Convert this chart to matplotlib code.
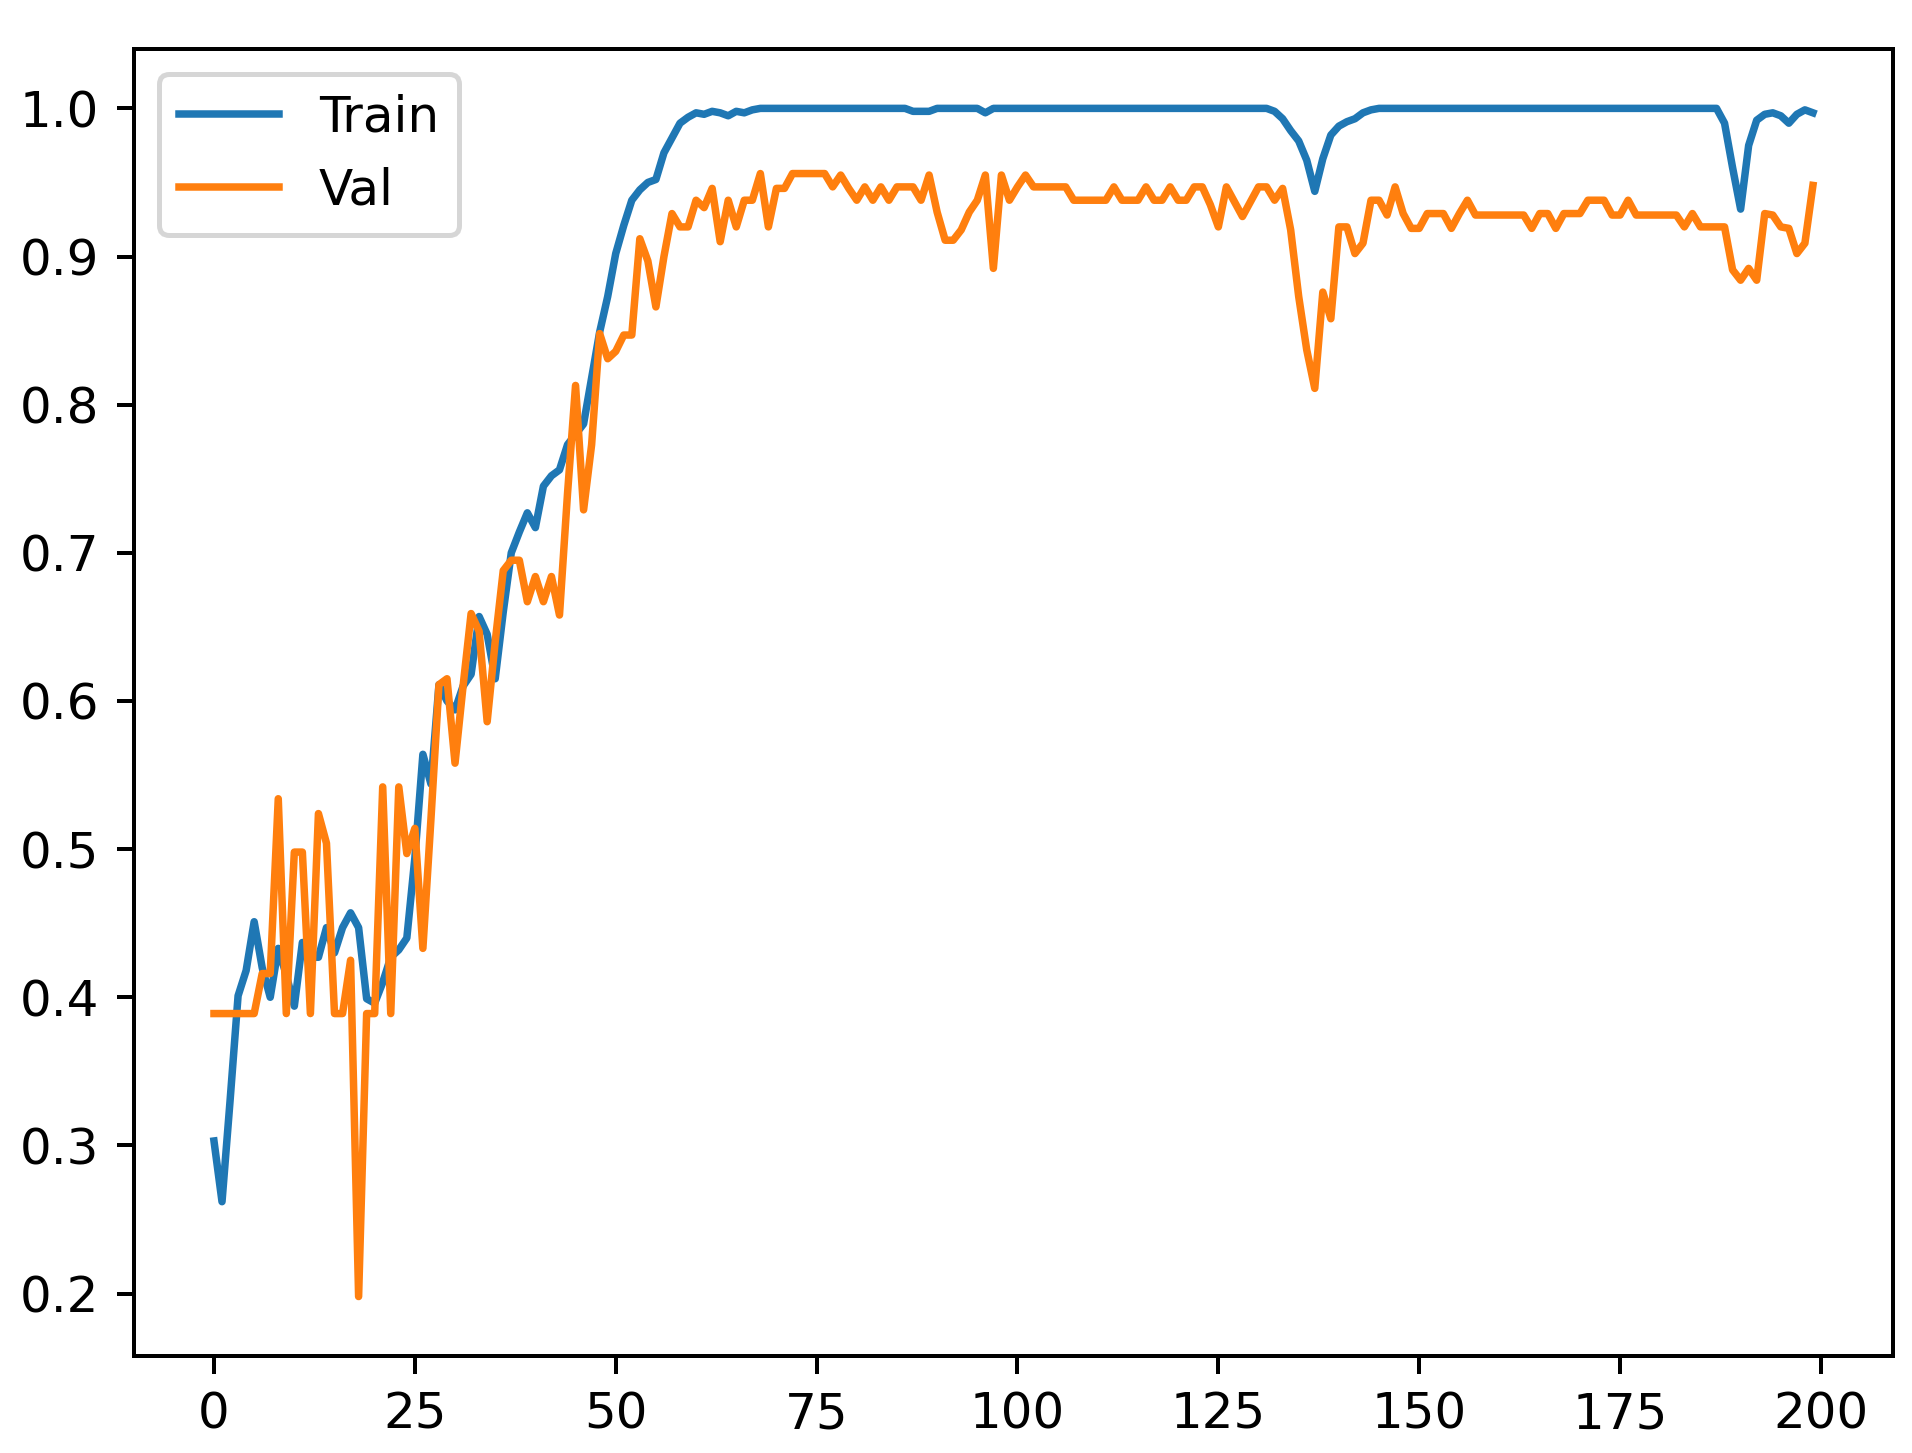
import matplotlib
matplotlib.use("Agg")
import matplotlib.pyplot as plt

train_acc = (
    [0.303, 0.262, 0.330, 0.401, 0.418, 0.451, 0.420, 0.400, 0.433, 0.415,
     0.394, 0.437, 0.427, 0.427, 0.447, 0.430, 0.447, 0.457, 0.447, 0.399,
     0.396, 0.410, 0.427, 0.432, 0.440, 0.494, 0.564, 0.544, 0.611, 0.600,
     0.594, 0.610, 0.618, 0.657, 0.645, 0.615, 0.660, 0.700, 0.714, 0.727,
     0.717, 0.745, 0.752, 0.756, 0.773, 0.780, 0.787, 0.818, 0.849, 0.873,
     0.902, 0.921, 0.938, 0.945, 0.950, 0.952, 0.970, 0.980, 0.990, 0.994,
     0.997, 0.996, 0.998, 0.997, 0.995, 0.998, 0.997, 0.999, 1.000, 1.000]
    + [1.000] * 17 + [0.998, 0.998, 0.998]          # 70-89
    + [1.000] * 6 + [0.997] + [1.000] * 35           # 90-131
    + [0.998, 0.993, 0.985, 0.978, 0.965, 0.944, 0.966, 0.982,
       0.988, 0.991, 0.993, 0.997, 0.999]            # 132-144
    + [1.000] * 43                                   # 145-187
    + [0.990, 0.960, 0.932, 0.975, 0.992, 0.996, 0.997, 0.995,
       0.990, 0.996, 0.999, 0.997]                   # 188-199
)

val_acc = [
    0.389, 0.389, 0.389, 0.389, 0.389, 0.389, 0.416, 0.416, 0.534, 0.389,
    0.498, 0.498, 0.389, 0.524, 0.504, 0.389, 0.389, 0.425, 0.198, 0.389,
    0.389, 0.542, 0.389, 0.542, 0.497, 0.514, 0.433, 0.520, 0.611, 0.615,
    0.558, 0.610, 0.659, 0.647, 0.586, 0.640, 0.688, 0.695, 0.695, 0.667,
    0.684, 0.667, 0.684, 0.658, 0.740, 0.813, 0.729, 0.773, 0.848, 0.831,
    0.836, 0.847, 0.847, 0.912, 0.897, 0.866, 0.900, 0.929, 0.920, 0.920,
    0.938, 0.933, 0.946, 0.910, 0.938, 0.920, 0.938, 0.938, 0.956, 0.920,
    0.946, 0.946, 0.956, 0.956, 0.956, 0.956, 0.956, 0.947, 0.955, 0.946,
    0.938, 0.947, 0.938, 0.947, 0.938, 0.947, 0.947, 0.947, 0.938, 0.955,
    0.930, 0.911, 0.911, 0.918, 0.930, 0.938, 0.955, 0.892, 0.955, 0.938,
    0.947, 0.955, 0.947, 0.947, 0.947, 0.947, 0.947, 0.938, 0.938, 0.938,
    0.938, 0.938, 0.947, 0.938, 0.938, 0.938, 0.947, 0.938, 0.938, 0.947,
    0.938, 0.938, 0.947, 0.947, 0.935, 0.920, 0.947, 0.937, 0.927, 0.937,
    0.947, 0.947, 0.938, 0.946, 0.918, 0.873, 0.837, 0.811, 0.876, 0.858,
    0.920, 0.920, 0.902, 0.909, 0.938, 0.938, 0.928, 0.947, 0.929, 0.919,
    0.919, 0.929, 0.929, 0.929, 0.919, 0.929, 0.938, 0.928, 0.928, 0.928,
    0.928, 0.928, 0.928, 0.928, 0.919, 0.929, 0.929, 0.919, 0.929, 0.929,
    0.929, 0.938, 0.938, 0.938, 0.928, 0.928, 0.938, 0.928, 0.928, 0.928,
    0.928, 0.928, 0.928, 0.920, 0.929, 0.920, 0.920, 0.920, 0.920, 0.891,
    0.884, 0.892, 0.884, 0.929, 0.928, 0.920, 0.919, 0.902, 0.909, 0.948,
]

epochs = list(range(len(val_acc)))

fig = plt.figure(figsize=(1912 / 360, 1453 / 360), dpi=360)
ax = fig.add_axes([0.0701, 0.0668, 0.9199, 0.8995])
ax.plot(epochs, train_acc, label="Train")
ax.plot(epochs, val_acc, label="Val")
ax.legend(loc="upper left")
fig.savefig("out.png", dpi=360)
